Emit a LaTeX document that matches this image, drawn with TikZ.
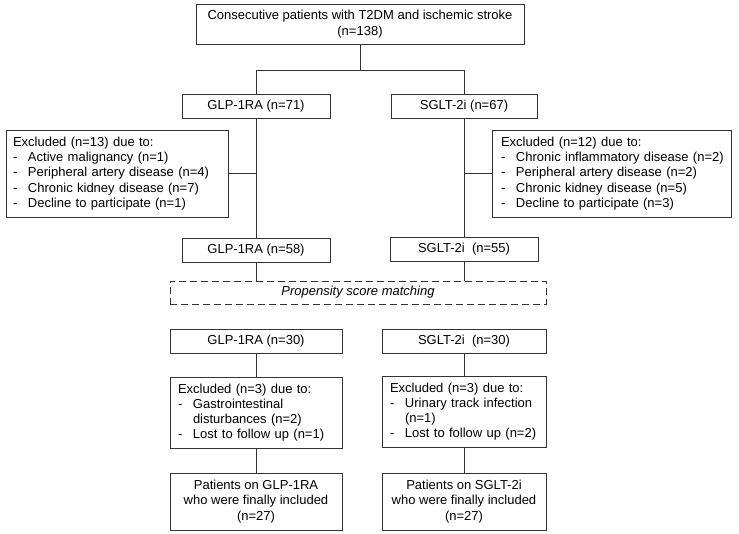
\documentclass[tikz,border=0pt]{standalone}
\usepackage{fontspec}
\setmainfont{Liberation Sans}
\newcommand\fs{\fontsize{13}{15.2}\selectfont}
\newcommand\itm{\makebox[15pt][l]{-}}
\newcommand\ind{\hspace*{15pt}}
\begin{document}
\begin{tikzpicture}[x=1pt,y=-1pt,
  box/.style={draw=black!80, line width=0.8pt, inner sep=0pt, align=center, font=\fs},
  lbox/.style={draw=black!80, line width=0.8pt, inner ysep=0pt, align=left, font=\fs},
  conn/.style={draw=black!80, line width=0.8pt}]
\useasboundingbox (0,0) rectangle (739,533);
\node[box, minimum width=328pt, minimum height=40pt, font=\fontsize{13}{16}\selectfont] (top) at (360,24) {Consecutive patients with T2DM and ischemic stroke\\(n=138)};
\node[box, minimum width=148pt, minimum height=24pt] (g71) at (256,106) {GLP-1RA (n=71)};
\node[box, minimum width=146pt, minimum height=24pt] (s67) at (464,106) {SGLT-2i (n=67)};
\node[lbox, inner xsep=7pt, text width=208pt, minimum height=87pt] (exL) at (117,173.5) {Excluded (n=13) due to:\\\itm Active malignancy (n=1)\\\itm Peripheral artery disease (n=4)\\\itm Chronic kidney disease (n=7)\\\itm Decline to participate (n=1)};
\node[lbox, inner xsep=9pt, text width=221pt, minimum height=87pt] (exR) at (611.5,173.5) {Excluded (n=12) due to:\\\itm \mbox{Chronic inflammatory disease (n=2)}\\\itm Peripheral artery disease (n=2)\\\itm Chronic kidney disease (n=5)\\\itm Decline to participate (n=3)};
\node[box, minimum width=148pt, minimum height=24pt] (g58) at (256,250) {GLP-1RA (n=58)};
\node[box, minimum width=148pt, minimum height=24pt] (s55) at (464,249) {SGLT-2i\ \ (n=55)};
\node[box, dash pattern=on 7pt off 4pt, minimum width=376pt, minimum height=23pt, font=\fs\itshape] (psm) at (358,292.5) {Propensity score matching};
\node[box, minimum width=172pt, minimum height=24pt] (g30) at (256,341) {GLP-1RA (n=30)};
\node[box, minimum width=164pt, minimum height=24pt] (s30) at (464,341) {SGLT-2i\ \ (n=30)};
\node[lbox, inner xsep=8pt, text width=156pt, minimum height=71pt] (exL2) at (256,412.5) {Excluded (n=3) due to:\\\itm Gastrointestinal\\\ind disturbances (n=2)\\\itm Lost to follow up (n=1)};
\node[lbox, inner xsep=8pt, text width=148pt, minimum height=71pt] (exR2) at (464,411.5) {Excluded (n=3) due to:\\\itm Urinary track infection\\\ind (n=1)\\\itm Lost to follow up (n=2)};
\node[box, minimum width=172pt, minimum height=57pt] (fL) at (256,501.5) {Patients on GLP-1RA\\who were finally included\\(n=27)};
\node[box, minimum width=164pt, minimum height=57pt] (fR) at (464,501.5) {Patients on SGLT-2i\\who were finally included\\(n=27)};
\coordinate (jl) at (256,70);
\coordinate (jr) at (464,70);
\draw[conn] (top.south) -- (top.south |- jl);
\draw[conn] (g71.north) -- (jl) -- (jr) -- (s67.north);
\draw[conn] (g71.south) -- (g58.north);
\draw[conn] (s67.south) -- (s55.north);
\draw[conn] (exL.east) -- (exL.east -| g71.south);
\draw[conn] (exR.west) -- (exR.west -| s67.south);
\draw[conn] (g58.south) -- (g58.south |- psm.north);
\draw[conn] (s55.south) -- (s55.south |- psm.north);
\draw[conn] (g30.south) -- (exL2.north);
\draw[conn] (exL2.south) -- (fL.north);
\draw[conn] (s30.south) -- (exR2.north);
\draw[conn] (exR2.south) -- (fR.north);
\end{tikzpicture}
\end{document}
